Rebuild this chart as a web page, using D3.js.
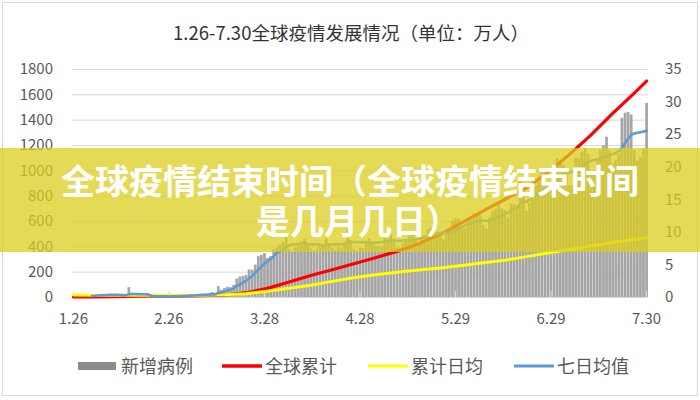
<!DOCTYPE html>
<html><head><meta charset="utf-8">
<script src="https://cdn.jsdelivr.net/npm/d3@7/dist/d3.min.js"></script>
<style>body{margin:0;background:#fff}svg{display:block}</style>
</head><body><svg id="c" width="700" height="400"></svg>
<script>
const chartTitle = "1.26-7.30全球疫情发展情况（单位：万人）";
const tickLabels = ["1.26","2.26","3.28","4.28","5.29","6.29","7.30"];
const leftTicks = [0,200,400,600,800,1000,1200,1400,1600,1800];
const rightTicks = [0,5,10,15,20,25,30,35];
const seriesNames = ["新增病例","全球累计","累计日均","七日均值"];
const bannerLines = ["全球疫情结束时间（全球疫情结束时间","是几月几日）"];

// 新增病例 (万), daily 1.26 - 7.30, right axis
const newCases = [
0.07,0.08,0.17,0.12,0.19,0.21,
0.26,0.28,0.32,0.39,0.37,0.32,0.34,0.27,0.30,0.25,0.20,0.04,1.51,0.65,0.21,0.21,0.21,0.19,0.05,0.06,0.10,0.10,0.05,0.06,0.09,0.10,0.13,0.14,0.18,
0.24,0.19,0.25,0.23,0.28,0.40,0.39,0.40,0.39,0.45,0.75,0.26,1.66,1.10,1.38,1.59,1.50,1.86,2.84,3.14,3.22,3.40,4.23,4.20,4.96,6.27,6.47,6.73,5.99,6.27,7.36,
7.65,8.05,8.39,9.68,7.39,7.04,7.56,8.24,8.51,8.96,7.96,7.46,7.07,7.36,8.15,7.79,8.97,8.11,7.56,7.27,7.70,7.47,8.46,10.4,8.8,7.4,7.1,7.6,7.5,8.6,
9.0,8.5,7.8,7.9,7.7,9.0,8.9,9.7,8.5,7.6,7.6,8.3,8.6,9.4,9.6,9.1,8.4,8.8,9.5,10.4,10.6,10.8,10.1,9.6,8.9,9.8,10.6,11.7,12.1,12.0,10.9,
10.5,11.5,11.8,12.9,12.8,12.6,11.0,10.5,12.2,13.2,13.5,14.2,13.6,13.4,12.2,14.3,14.3,14.0,18.2,16.1,13.2,14.5,16.4,17.1,18.1,19.2,17.6,16.3,16.3,17.7,
21.3,21.0,20.3,18.9,17.2,17.1,21.4,21.3,22.3,22.9,22.0,19.2,19.2,21.1,22.6,23.3,24.6,22.5,20.5,21.0,22.0,27.5,28.3,28.4,28.0,22.5,21.0,21.5,22.8,29.8
];

// 七日均值 (万), daily, right axis
const avg7 = [
null,null,null,null,null,null,
0.16,0.19,0.22,0.25,0.28,0.30,0.33,0.33,0.32,0.31,0.29,0.25,0.42,0.46,0.45,0.44,0.43,0.43,0.43,0.21,0.12,0.12,0.12,0.10,0.09,0.08,0.09,0.10,0.12,
0.15,0.16,0.19,0.21,0.24,0.28,0.31,0.33,0.35,0.37,0.44,0.41,0.60,0.70,0.84,1.00,1.15,1.31,1.68,1.89,2.21,2.47,2.85,3.22,3.71,4.20,4.67,5.14,5.51,5.81,6.26,
6.76,7.02,7.30,7.70,7.90,8.05,8.07,8.15,8.22,8.30,8.08,8.09,8.09,8.06,8.04,7.88,8.08,8.06,8.06,8.08,8.08,8.07,8.09,8.37,8.46,8.44,8.42,8.44,8.43,8.45,
8.35,8.31,8.31,8.39,8.40,8.47,8.54,8.71,8.67,8.64,8.60,8.69,8.66,8.73,8.70,8.80,8.91,9.06,9.20,9.33,9.47,9.54,9.67,9.83,9.84,9.88,9.90,10.03,10.23,10.49,10.74,
10.97,11.19,11.37,11.53,11.63,11.71,11.71,11.71,11.81,12.01,12.10,12.29,12.43,12.77,12.94,13.26,13.56,13.67,14.31,14.67,14.61,14.93,15.23,15.63,16.07,16.21,16.43,16.89,17.15,17.19,
17.90,18.56,18.87,19.06,19.13,19.24,19.61,19.61,19.99,20.35,20.70,20.90,21.05,21.10,21.25,21.45,21.70,21.85,21.95,22.10,22.40,22.90,23.60,24.30,24.90,25.10,25.20,25.30,25.40,25.50
];

// readings of the two smooth lines, at these day indexes (0 = 1.26)
const lineDayIndex = [0,7,14,21,28,35,42,49,56,63,70,77,84,91,98,105,112,119,126,133,140,147,154,161,168,175,182,186];
// 全球累计 (万), left axis
const cumTotal = [0.2,1.5,3.5,6.5,7.8,8.8,10.5,16,32,68,118,170,215,262,310,360,420,495,585,680,770,860,985,1125,1280,1450,1610,1705];
// 累计日均 (万), right axis
const cumDailyAvg = [0.3,0.25,0.27,0.32,0.28,0.25,0.25,0.34,0.5,0.9,1.35,1.8,2.4,2.95,3.4,3.8,4.15,4.45,4.85,5.25,5.65,6.2,6.75,7.3,7.85,8.35,8.85,9.1];

const FONT = "'Noto Sans CJK SC','Noto Sans',sans-serif";
const svg = d3.select("#c");
const plot = {l:72, r:648, t:69, b:297};

const dates = d3.timeDay.range(new Date(2020,0,26), new Date(2020,6,31));
const categories = dates.map(d3.timeFormat("%-m.%-d"));

const x = d3.scaleBand().domain(categories).range([plot.l, plot.r]).paddingInner(0.12).paddingOuter(0.02);
const xc = c => x(c) + x.bandwidth()/2;
const yL = d3.scaleLinear().domain([0,1800]).range([plot.b, plot.t]);
const yR = d3.scaleLinear().domain([0,35]).range([plot.b, plot.t]);

svg.append("rect").attr("x",2.5).attr("y",2.5).attr("width",695).attr("height",393)
  .attr("fill","#fff").attr("stroke","#d9d9d9");

svg.append("text").attr("x",351).attr("y",40).attr("text-anchor","middle")
  .attr("font-family",FONT).attr("font-size",18.5).attr("fill","#333").text(chartTitle);

// gridlines
const grid = svg.append("g").attr("transform",`translate(${plot.l},0)`)
  .call(d3.axisLeft(yL).tickValues(leftTicks).tickSize(-(plot.r-plot.l)).tickFormat(""));
grid.select(".domain").remove();
grid.selectAll("line").attr("stroke","#d9d9d9");

// bars
svg.append("g").selectAll("rect").data(newCases).join("rect")
  .attr("x",(d,i)=>x(categories[i])).attr("width",x.bandwidth())
  .attr("y",d=>yR(d)).attr("height",d=>plot.b-yR(d)).attr("fill","#a5a5a5");

// axis line + tick marks
svg.append("line").attr("x1",plot.l).attr("x2",plot.r).attr("y1",plot.b+0.5).attr("y2",plot.b+0.5).attr("stroke","#d9d9d9");
svg.append("g").selectAll("line").data(tickLabels).join("line")
  .attr("x1",d=>xc(d)).attr("x2",d=>xc(d)).attr("y1",plot.b-6).attr("y2",plot.b)
  .attr("stroke","#d9d9d9").attr("stroke-width",1);

// lines
const pts = vals => lineDayIndex.map((k,j)=>[categories[k], vals[j]]);
svg.append("path").datum(pts(cumTotal)).attr("fill","none").attr("stroke","#ff0000").attr("stroke-width",3.2)
  .attr("stroke-linejoin","round").attr("stroke-linecap","round")
  .attr("d",d3.line().x(d=>xc(d[0])).y(d=>yL(d[1])));
svg.append("path").datum(pts(cumDailyAvg)).attr("fill","none").attr("stroke","#ffff00").attr("stroke-width",3)
  .attr("stroke-linejoin","round").attr("stroke-linecap","round")
  .attr("d",d3.line().x(d=>xc(d[0])).y(d=>yR(d[1])));
svg.append("path").datum(avg7).attr("fill","none").attr("stroke","#5b9bd5").attr("stroke-width",2.6)
  .attr("stroke-linejoin","round").attr("stroke-linecap","round")
  .attr("d",d3.line().defined(d=>d!=null).x((d,i)=>xc(categories[i])).y(d=>yR(d)));

// axes labels
const styleAxis = g => { g.select(".domain").remove(); g.selectAll("text").attr("font-family",FONT).attr("font-size",15).attr("fill","#595959"); };
svg.append("g").attr("transform",`translate(${plot.l},0)`).call(d3.axisLeft(yL).tickValues(leftTicks).tickFormat(d3.format("d")).tickSize(0).tickPadding(19)).call(styleAxis);
svg.append("g").attr("transform",`translate(${plot.r},0)`).call(d3.axisRight(yR).tickValues(rightTicks).tickFormat(d3.format("d")).tickSize(0).tickPadding(17)).call(styleAxis);
svg.append("g").attr("transform",`translate(0,${plot.b})`).call(d3.axisBottom(x).tickValues(tickLabels).tickSize(0).tickPadding(16)).call(styleAxis);

// legend
const legendX = [78,222,368,514];
const legendColor = ["#8c8c8c","#ff0000","#ffff00","#5b9bd5"];
const lg = svg.append("g").selectAll("g").data(seriesNames).join("g")
  .attr("transform",(d,i)=>`translate(${legendX[i]},366)`);
lg.each(function(d,i){
  const g = d3.select(this);
  if(i===0) g.append("rect").attr("x",0).attr("y",-4).attr("width",38).attr("height",8).attr("fill",legendColor[i]);
  else g.append("line").attr("x1",0).attr("x2",40).attr("y1",0).attr("y2",0).attr("stroke",legendColor[i]).attr("stroke-width",i===1?3.5:3);
  g.append("text").attr("x",43).attr("y",6.5).attr("font-family",FONT).attr("font-size",18).attr("fill","#595959").text(d);
});

// banner overlay
svg.append("rect").attr("x",0).attr("y",148).attr("width",700).attr("height",104).attr("fill","rgba(220,205,30,0.75)");
svg.append("g").selectAll("text").data(bannerLines).join("text")
  .attr("x",(d,i)=>i===0?350:358).attr("y",(d,i)=>194+i*40).attr("text-anchor","middle")
  .attr("font-family",FONT).attr("font-weight",700).attr("font-size",34).attr("fill","#fff").text(d=>d);
</script></body></html>
